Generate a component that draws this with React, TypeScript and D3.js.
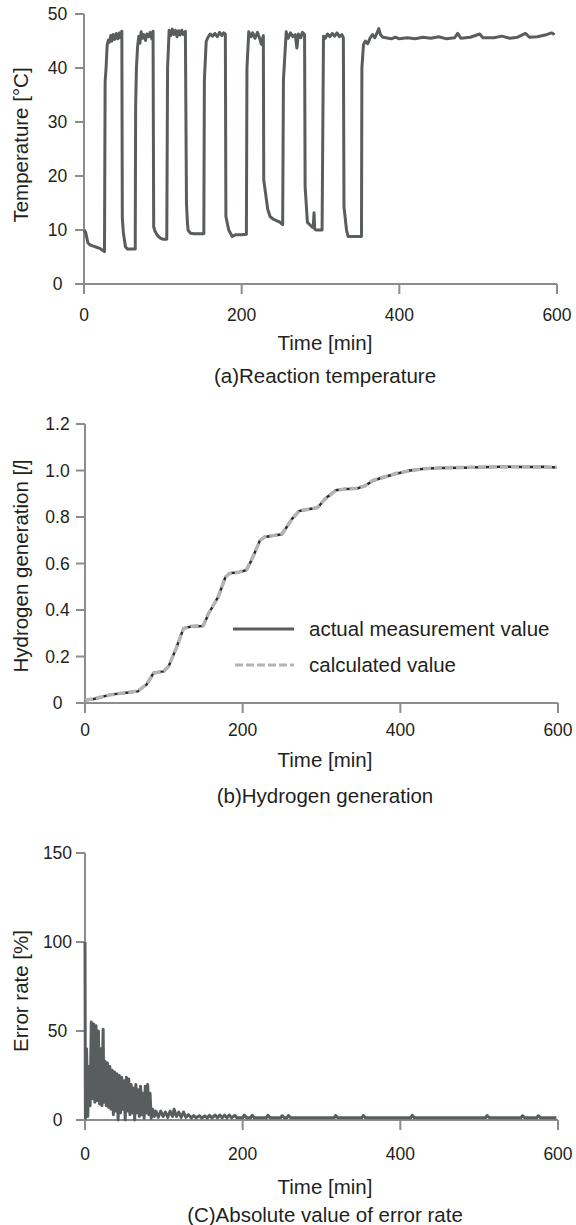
import * as d3 from 'd3';

// (a) reaction temperature
const tempTime = [
  0, 2, 5, 8, 12, 16, 20, 23, 26, 26.8, 28, 29.4, 31, 32.5, 34, 35.5, 37, 39, 41, 43, 45, 46.5, 48,
  48.6, 50, 52.6, 55, 60, 65, 65.5, 66.5, 68, 69.5, 71, 72.5, 74, 76, 78, 80, 82, 84, 86, 87.6,
  88.4, 90, 92.6, 96.8, 100, 105, 106, 108, 110, 112, 114, 116, 118, 120, 122, 124, 126, 128.6,
  130, 131, 132, 135, 140, 145, 152, 152.7, 155, 157, 160, 163, 166, 169, 172, 175, 177, 179.3,
  180, 183.6, 188, 192, 200, 206, 206.7, 209, 212, 214, 217, 220, 223, 225, 227.5,
  228, 233, 236, 240, 245, 249, 252, 253, 256.5, 259, 262, 265, 268, 270, 272, 275, 277, 279.8,
  280.5, 283.4, 289.7, 291, 291.8, 292.6, 294, 302, 303.8, 306, 309, 312, 315, 318, 321, 324, 327, 329,
  329.8, 333, 335, 340, 345, 352, 352.5, 354.5, 357, 360, 363, 366, 369, 372, 374, 376, 379, 383,
  390, 395, 400, 410, 420, 430, 440, 450, 460, 470, 474, 478, 490, 502, 506, 520, 530, 540, 550,
  560, 565, 575, 585, 593, 597,
];
const tempValue = [
  10, 9.6, 7.6, 7.2, 7.0, 6.8, 6.6, 6.3, 6.0, 37.5, 40, 44.3, 45.2, 44.8, 46, 45, 46.2, 45.3, 46.4, 45.4, 46.5, 45.6, 46.8,
  12.2, 9.4, 6.9, 6.5, 6.5, 6.5, 32.8, 40, 44, 45.9, 44.6, 46.7, 45.5, 46.2, 45.1, 46.3, 45.8, 46.6, 45.4, 46.8,
  10.6, 9.8, 9.1, 8.5, 8.3, 8.3, 40, 47, 46, 47.2, 46.2, 47, 45.8, 46.9, 46.1, 47, 46.2, 46.8,
  14.9, 11.8, 10, 9.4, 9.3, 9.3, 9.3, 37.8, 44.9, 45.6, 46.3, 45.9, 46.4, 45.8, 46.6, 46.0, 46.5, 46.3,
  12.5, 10, 8.8, 9.1, 9.1, 9.2, 40, 46.7, 45.8, 46.5, 45.5, 46.6, 45.4, 44.4, 46,
  19.3, 13.9, 12.5, 12, 11.7, 11.4, 11, 37.8, 46.7, 45.5, 46.5, 45.8, 46.2, 43.7, 46.3, 45.6, 46.6, 46.2,
  18, 11.4, 10.5, 11, 13.2, 10.2, 10, 10, 45.9, 45.5, 46.3, 45.8, 46.4, 45.9, 46.5, 45.8, 46.2, 45.6,
  14.3, 10, 8.8, 8.8, 8.8, 8.8, 40, 44.3, 45, 44.5, 45.6, 46.2, 45.6, 46.6, 47.3, 46.2, 45.7, 45.6,
  45.4, 45.7, 45.4, 45.6, 45.4, 45.7, 45.5, 45.8, 45.4, 45.6, 46.4, 45.5, 45.7, 46.3, 45.6, 45.6, 45.9, 45.5, 45.7,
  46.4, 45.7, 45.8, 46.1, 46.5, 46.2,
];

// (b) hydrogen generation
const h2Time = [
  0, 10, 19, 32, 50, 67, 78, 87, 100, 106, 115, 125, 135, 150, 157, 169, 178, 183, 195, 205, 212, 222,
  228, 240, 250, 262, 272, 285, 295, 305, 318, 330, 345, 355, 365, 378, 395, 412, 430, 450, 480, 500,
  530, 560, 580, 598,
];
const h2Actual = [
  0.012, 0.016, 0.024, 0.036, 0.043, 0.05, 0.079, 0.13, 0.136, 0.157, 0.229, 0.322, 0.329, 0.331, 0.386,
  0.457, 0.54, 0.558, 0.562, 0.572, 0.62, 0.7, 0.714, 0.72, 0.726, 0.79, 0.826, 0.834, 0.84, 0.88, 0.915,
  0.92, 0.922, 0.935, 0.955, 0.971, 0.986, 1.0, 1.008, 1.011, 1.012, 1.014, 1.016, 1.015, 1.016, 1.013,
];
const h2Calc = [
  0.013, 0.017, 0.025, 0.035, 0.044, 0.051, 0.08, 0.128, 0.137, 0.158, 0.23, 0.32, 0.33, 0.333, 0.388,
  0.455, 0.542, 0.556, 0.563, 0.574, 0.622, 0.698, 0.715, 0.721, 0.728, 0.788, 0.828, 0.833, 0.842, 0.878,
  0.913, 0.921, 0.924, 0.933, 0.957, 0.97, 0.988, 0.999, 1.007, 1.012, 1.013, 1.015, 1.015, 1.016, 1.015, 1.014,
];

// (c) absolute error rate
const errTime = [
  0, 0.5, 2, 3.5, 5, 6.5, 8, 9.5, 11, 12.5, 14, 15.5, 17, 18.5, 20, 21.5, 23, 24, 25.5, 27, 28.5, 30,
  31.5, 33, 34.5, 36, 37.5, 39, 40.5, 42, 43.5, 45, 46.5, 48, 49.5, 51, 52.5, 54, 55.5, 57, 58.5, 60,
  61.5, 63, 64.5, 66, 67.5, 69, 70.5, 72, 73.5, 75, 76.5, 78, 79.5, 81, 82.5, 84, 86, 88, 90, 93, 96,
  99, 102, 105, 108, 111, 113, 116, 119, 122, 125, 128, 131, 135, 138, 141, 145, 148, 152, 155, 158,
  161, 165, 168, 171, 174, 177, 180, 183, 186, 190, 193, 200, 202, 205, 210, 212, 215, 230, 232, 235,
  248, 250, 253, 256, 258, 261, 316, 318, 321, 351, 353, 356, 413, 415, 418, 508, 510, 513, 553, 555,
  558, 573, 575, 578, 598,
];
const errValue = [
  100, 1, 40, 2, 30, 8, 55, 12, 54, 10, 53, 11, 50, 9, 40, 8, 51, 10, 33, 8, 32, 7,
  30, 6, 28, 3, 27, 5, 26, 0, 25, 4, 24, 6, 22, 0, 24, 5, 23, 3, 20, 4,
  18, 0, 20, 4, 17, 2, 19, 3, 15, 1, 19, 4, 20, 3, 15, 1, 6, 2, 5, 1.5, 5,
  2, 4.5, 1.5, 5, 2, 6, 2, 4.5, 1.5, 4.5, 1.5, 3, 1.2, 2.5, 1.2, 2.4, 1.2, 2.3, 1.2, 2.6,
  1.2, 2.8, 1.2, 2.8, 1.2, 2.7, 1.2, 2.8, 1.2, 2.6, 1.2, 1.2, 2.8, 1.2, 1.2, 2.6, 1.2, 1.2, 2.6, 1.2,
  1.2, 2.4, 1.2, 1.2, 2.5, 1.2, 1.2, 2.5, 1.2, 1.2, 2.5, 1.2, 1.2, 2.6, 1.2, 1.2, 2.5, 1.2, 1.2, 2.4,
  1.2, 1.2, 2.4, 1.2, 1.2,
];

const xTicks = [0, 200, 400, 600];
const tempTicks = [0, 10, 20, 30, 40, 50];
const h2Ticks = [0, 0.2, 0.4, 0.6, 0.8, 1.0, 1.2];
const h2TickLabels = ['0', '0.2', '0.4', '0.6', '0.8', '1.0', '1.2'];
const errTicks = [0, 50, 100, 150];

const AXIS = '#8c8c8c';
const LINE = '#595d5d';
const CALC = '#b4b4b4';
const TEXT = '#231f20';
const FONT = '"Liberation Sans", Arial, Helvetica, sans-serif';

type Series = { t: number[]; v: number[]; color: string; width: number; dash?: string };

function Panel({
  x0, x1, yTop, yBot, yMax, yTicks, yLabels, yTitle, yTitleY, tickY, titleY, captionY, caption, series, children,
}: {
  x0: number; x1: number; yTop: number; yBot: number; yMax: number;
  yTicks: number[]; yLabels: string[]; yTitle: React.ReactNode; yTitleY: number;
  tickY: number; titleY: number; captionY: number; caption: string; series: Series[];
  children?: React.ReactNode;
}) {
  const x = d3.scaleLinear().domain([0, 600]).range([x0, x1]);
  const y = d3.scaleLinear().domain([0, yMax]).range([yBot, yTop]);
  const mid = 325;

  return (
    <g>
      {/* axes */}
      <line x1={x0} x2={x0} y1={yBot} y2={yTop} stroke={AXIS} strokeWidth={2} />
      <line x1={x0} x2={x1} y1={yBot} y2={yBot} stroke={AXIS} strokeWidth={2} />
      {yTicks.map((d, i) => (
        <g key={'y' + i}>
          <line x1={x0 - 9} x2={x0} y1={y(d)} y2={y(d)} stroke={AXIS} strokeWidth={2} />
          <text x={57.5} y={y(d)} dy="0.36em" textAnchor="middle" fontSize={17.5} fill={TEXT}>
            {yLabels[i]}
          </text>
        </g>
      ))}
      {xTicks.map((d) => (
        <g key={'x' + d}>
          <line x1={x(d)} x2={x(d)} y1={yBot} y2={yBot + 10} stroke={AXIS} strokeWidth={2} />
          <text x={x(d)} y={tickY} textAnchor="middle" fontSize={17.5} fill={TEXT}>
            {d}
          </text>
        </g>
      ))}

      {/* data */}
      {series.map((s, i) => {
        const pts = s.t.map((t, k) => [t, s.v[k]] as [number, number]);
        const line = d3.line<[number, number]>().x((p) => x(p[0])).y((p) => y(p[1]));
        return (
          <path
            key={i}
            d={line(pts) ?? ''}
            fill="none"
            stroke={s.color}
            strokeWidth={s.width}
            strokeDasharray={s.dash}
            strokeLinejoin="round"
          />
        );
      })}

      {children}

      {/* titles */}
      <text
        transform={`translate(21,${yTitleY}) rotate(-90)`}
        textAnchor="middle"
        dy="0.36em"
        fontSize={20.5}
        fill={TEXT}>
        {yTitle}
      </text>
      <text x={mid} y={titleY} textAnchor="middle" fontSize={20.5} fill={TEXT}>
        Time [min]
      </text>
      <text x={mid} y={captionY} textAnchor="middle" fontSize={20.5} fill={TEXT}>
        {caption}
      </text>
    </g>
  );
}

export default function App() {
  return (
    <svg
      width={576}
      height={1225}
      style={{ position: 'absolute', left: 0, top: 0, background: '#fff' }}
      fontFamily={FONT}>
      <rect width={576} height={1225} fill="#fff" />

      <Panel
        x0={84} x1={557} yTop={14} yBot={284} yMax={50}
        yTicks={tempTicks} yLabels={tempTicks.map(String)}
        yTitle="Temperature [°C]" yTitleY={145}
        tickY={321} titleY={350} captionY={383}
        caption="(a)Reaction temperature"
        series={[{ t: tempTime, v: tempValue, color: LINE, width: 3 }]}
      />

      <Panel
        x0={85} x1={558} yTop={424} yBot={703} yMax={1.2}
        yTicks={h2Ticks} yLabels={h2TickLabels}
        yTitle={<>Hydrogen generation [<tspan fontStyle="italic">l</tspan>]</>} yTitleY={566}
        tickY={736} titleY={767} captionY={803}
        caption="(b)Hydrogen generation"
        series={[
          { t: h2Time, v: h2Actual, color: '#2a2a2a', width: 2.5 },
          { t: h2Time, v: h2Calc, color: CALC, width: 3.5, dash: '8,3' },
        ]}>
        <g>
          <line x1={233} x2={294} y1={629} y2={629} stroke={LINE} strokeWidth={3} />
          <text x={309} y={636} fontSize={20.5} fill={TEXT}>actual measurement value</text>
          <line x1={235} x2={294} y1={665} y2={665} stroke={CALC} strokeWidth={3} strokeDasharray="8,3" />
          <text x={309} y={672} fontSize={20.5} fill={TEXT}>calculated value</text>
        </g>
      </Panel>

      <Panel
        x0={85} x1={558} yTop={853} yBot={1120} yMax={150}
        yTicks={errTicks} yLabels={errTicks.map(String)}
        yTitle="Error rate [%]" yTitleY={991}
        tickY={1160} titleY={1194} captionY={1222}
        caption="(C)Absolute value of error rate"
        series={[{ t: errTime, v: errValue, color: LINE, width: 3 }]}
      />
    </svg>
  );
}
